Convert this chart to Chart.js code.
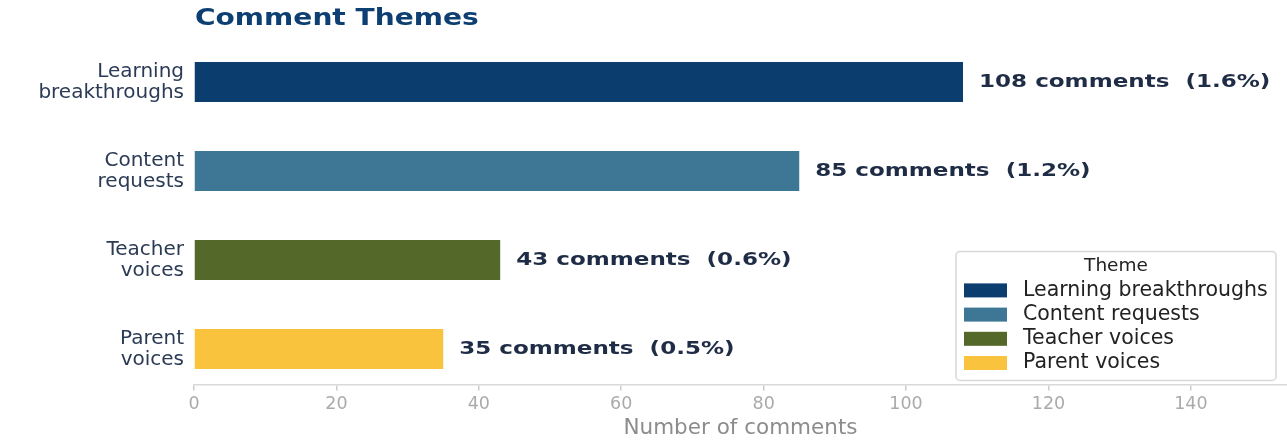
<!DOCTYPE html>
<html>
<head>
<meta charset="utf-8">
<script src="https://cdn.jsdelivr.net/npm/chart.js@4.4.1/dist/chart.umd.min.js"></script>
<style>
  html, body { margin: 0; padding: 0; background: #fff; }
  #wrap { width: 1287px; height: 441px; position: relative; }
</style>
</head>
<body>
<div id="wrap"><canvas id="myChart"></canvas></div>
<script>
// data
const themes = ['Learning breakthroughs', 'Content requests', 'Teacher voices', 'Parent voices'];
const tickLabels = [['Learning', 'breakthroughs'], ['Content', 'requests'], ['Teacher', 'voices'], ['Parent', 'voices']];
const counts = [108, 85, 43, 35];
const shares = [1.6, 1.2, 0.6, 0.5];
const xTicks = [0, 20, 40, 60, 80, 100, 120, 140];
const colors = ['#0b3d6f', '#3e7796', '#536829', '#f9c33e'];

const font = 'DejaVu Sans';

// title, value labels and legend box drawn on top
const overlay = {
    id: 'overlay',
    afterDatasetsDraw(chart) {
        const c = chart.ctx;
        const area = chart.chartArea;
        const xs = chart.scales.x, ys = chart.scales.y;

        // title
        c.save();
        c.fillStyle = '#0d3f72';
        c.font = 'bold 23px "' + font + '"';
        c.textBaseline = 'middle';
        c.translate(area.left + 1, 19);
        c.scale(1.22, 1);
        c.fillText('Comment Themes', 0, 0);
        c.restore();

        // value labels
        counts.forEach((v, i) => {
            c.save();
            c.fillStyle = '#1f2c45';
            c.font = 'bold 18px "' + font + '"';
            c.textBaseline = 'middle';
            c.translate(xs.getPixelForValue(v) + 16, ys.getPixelForValue(i));
            c.scale(1.28, 1);
            c.fillText(v + ' comments  (' + shares[i].toFixed(1) + '%)', 0, 0);
            c.restore();
        });

        // legend
        const bw = 320, bh = 129;
        const bx = area.right - 11 - bw, by = area.bottom - 4 - bh;
        c.save();
        c.beginPath();
        c.roundRect(bx, by, bw, bh, 4);
        c.fillStyle = 'rgba(255,255,255,0.85)';
        c.fill();
        c.strokeStyle = '#d8d8d8';
        c.lineWidth = 1.5;
        c.stroke();
        c.fillStyle = '#222';
        c.font = '18.5px "' + font + '"';
        c.textAlign = 'center';
        c.textBaseline = 'middle';
        c.fillText('Theme', bx + bw / 2, by + 15);
        c.textAlign = 'left';
        c.font = '20.5px "' + font + '"';
        themes.forEach((t, i) => {
            const yy = by + 39 + i * 24.2;
            c.fillStyle = colors[i];
            c.fillRect(bx + 8, yy - 7, 43, 14);
            c.fillStyle = '#222';
            c.fillText(t, bx + 67, yy);
        });
        c.restore();
    }
};

const ctx = document.getElementById('myChart').getContext('2d');

new Chart(ctx, {
    type: 'bar',
    data: {
        datasets: [{
            data: counts.map((v, i) => ({ x: v, y: i })),
            backgroundColor: colors,
            borderWidth: 0,
            barPercentage: 0.45,
            categoryPercentage: 1
        }]
    },
    options: {
        indexAxis: 'y',
        responsive: true,
        maintainAspectRatio: false,
        animation: false,
        layout: { padding: { top: 46.6, right: 0, bottom: 0, left: 0 } },
        plugins: {
            legend: { display: false },
            tooltip: { enabled: false },
            title: { display: false }
        },
        scales: {
            y: {
                type: 'linear',
                min: -0.3975,
                max: 3.3975,
                reverse: true,
                offset: false,
                afterBuildTicks: s => { s.ticks = [0, 1, 2, 3].map(v => ({ value: v })); },
                afterFit: s => { s.width = 194; },
                ticks: {
                    callback: v => tickLabels[v],
                    color: '#2b3a55',
                    font: { family: font, size: 20, lineHeight: 1.05 },
                    padding: 10
                },
                grid: { display: false, drawTicks: false },
                border: { display: false }
            },
            x: {
                min: 0,
                max: 153.5,
                afterBuildTicks: s => { s.ticks = xTicks.map(v => ({ value: v })); },
                afterFit: s => { s.height = 56.6; },
                ticks: {
                    color: '#aaaaaa',
                    font: { family: font, size: 17.5 },
                    padding: 4
                },
                grid: {
                    drawOnChartArea: false,
                    tickLength: 6,
                    color: '#cccccc',
                    lineWidth: 1.5
                },
                border: { color: '#d9d9d9', width: 1.5 },
                title: {
                    display: true,
                    text: 'Number of comments',
                    color: '#8c8c8c',
                    font: { family: font, size: 21.5 },
                    padding: { top: 0, bottom: 0 }
                }
            }
        }
    },
    plugins: [overlay]
});
</script>
</body>
</html>
